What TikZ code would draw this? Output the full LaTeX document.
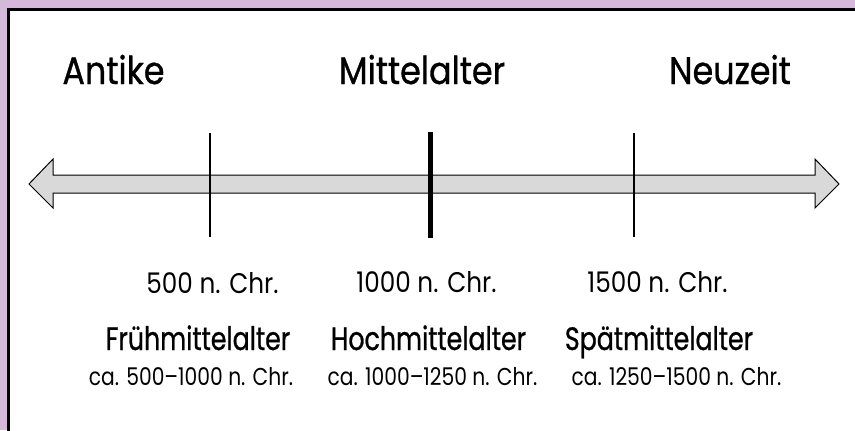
\documentclass[tikz,border=0pt]{standalone}
\usepackage{fontspec}
\setmainfont{Poppins}
\newfontfamily\titelfont{Poppins}[FakeStretch=0.87,FakeBold=0.8]
\newfontfamily\periodefont{Poppins}[FakeStretch=0.78,FakeBold=0.8]
\newfontfamily\jahrfont{Poppins}[FakeStretch=0.87]
\newfontfamily\spannefont{Poppins}[FakeStretch=0.83]
\definecolor{lila}{RGB}{213,185,218}
\definecolor{pfeil}{RGB}{217,217,217}
\begin{document}
\begin{tikzpicture}[x=1bp,y=-1bp,
  titel/.style={anchor=base,inner sep=0pt,font=\titelfont\fontsize{38.5}{44}\selectfont},
  periode/.style={anchor=base,inner sep=0pt,font=\periodefont\fontsize{32.5}{38}\selectfont},
  jahr/.style={anchor=base,inner sep=0pt,font=\jahrfont\fontsize{28.5}{34}\selectfont},
  spanne/.style={anchor=base,inner sep=0pt,font=\spannefont\fontsize{24.5}{29}\selectfont},
  strich/.style={line width=2bp},
  hauptstrich/.style={line width=5bp},
  ]
\useasboundingbox (0,0) rectangle (855,430);
\clip (0,0) rectangle (855,430);
\fill[lila] (0,0) rectangle (855,430);
\draw[fill=white,line width=3bp] (8.5,9.5) rectangle (870,445);
% Zeitstrahl
\draw[fill=pfeil,line width=1bp,line join=miter]
  (29,184) -- (53,159) -- (53,175) -- (815,175) -- (815,159) -- (839,184)
  -- (815,208) -- (815,193) -- (53,193) -- (53,208) -- cycle;
\coordinate (s1o) at (210,133); \coordinate (s1u) at (210,237);
\coordinate (s2o) at (430,132); \coordinate (s2u) at (430,238);
\coordinate (s3o) at (634,133); \coordinate (s3u) at (634,237);
\draw[strich] (s1o) -- (s1u);
\draw[hauptstrich] (s2o) -- (s2u);
\draw[strich] (s3o) -- (s3u);
% Epochen
\node[titel] (antike) at (113.5,84) {Antike};
\node[titel] (mittelalter) at (422,84) {Mittelalter};
\node[titel] (neuzeit) at (730,84) {Neuzeit};
% Jahre
\node[jahr] (j500) at (212.5,293) {500 n. Chr.};
\node[jahr] (j1000) at (426.5,292) {1000 n. Chr.};
\node[jahr] (j1500) at (657.5,292) {1500 n. Chr.};
% Abschnitte
\node[periode] (frueh) at (198,350) {Frühmittelalter};
\node[periode] (hoch) at (428.5,350) {Hochmittelalter};
\node[periode] (spaet) at (659,350) {Spätmittelalter};
\node[spanne] (sfrueh) at (191,385) {ca. 500–1000 n. Chr.};
\node[spanne] (shoch) at (432.5,385) {ca. 1000–1250 n. Chr.};
\node[spanne] (sspaet) at (676.5,385) {ca. 1250–1500 n. Chr.};
\end{tikzpicture}
\end{document}
